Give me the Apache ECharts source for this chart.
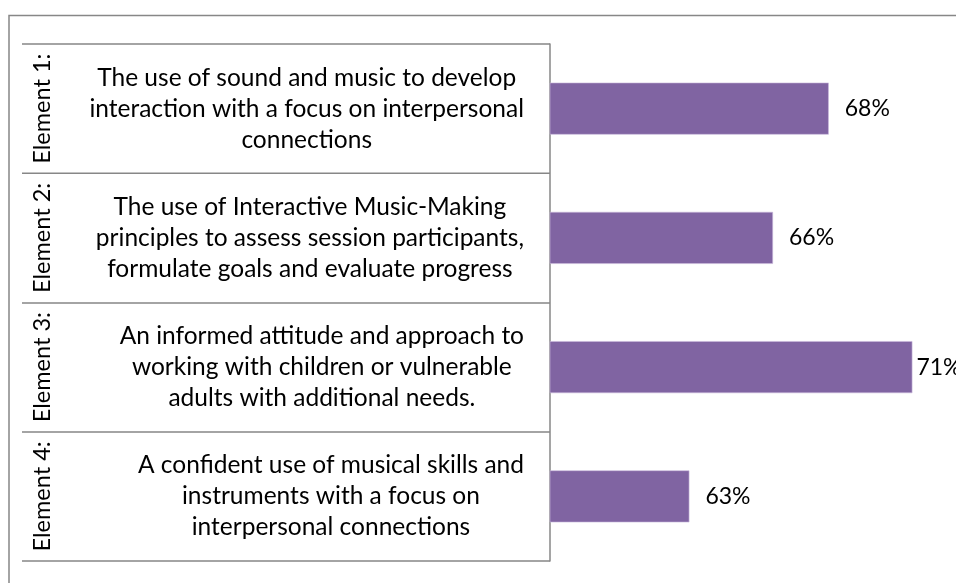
<!DOCTYPE html>
<html>
<head>
<meta charset="utf-8">
<script src="https://cdn.jsdelivr.net/npm/echarts@6/dist/echarts.min.js"></script>
<style>
  html, body { margin: 0; padding: 0; background: #fff; }
  #chart { width: 956px; height: 583px; }
</style>
</head>
<body>
<div id="chart"></div>
<script>
// Element headings (rotated column) and their descriptions
const elements = ['Element 1:', 'Element 2:', 'Element 3:', 'Element 4:'];
const descriptions = [
  'The use of sound and music to develop\ninteraction with a focus on interpersonal\nconnections',
  'The use of Interactive Music-Making\nprinciples to assess session participants,\nformulate goals and evaluate progress',
  'An informed attitude and approach to\nworking with children or vulnerable\nadults with additional needs.',
  'A confident use of musical skills and\ninstruments with a focus on\ninterpersonal connections'
];
// Percentage for each element
const percentages = [68, 66, 71, 63];

const FONT = 'Lato, "Open Sans", sans-serif';
const GRAY = '#878787';
const X_MIN = 58, X_MAX = 72;

// Labels of bars that reach close to the right edge sit tighter to the bar
const barData = percentages.map(function (v) {
  return X_MAX - v < 2 ? { value: v, label: { distance: 4 } } : v;
});

const chart = echarts.init(document.getElementById('chart'), null, { renderer: 'canvas' });

chart.setOption({
  backgroundColor: '#ffffff',
  animation: false,
  grid: { left: 550, right: 15.75, top: 44, bottom: 22, containLabel: false },
  xAxis: {
    type: 'value',
    min: X_MIN,
    max: X_MAX,
    show: false
  },
  yAxis: [
    {
      type: 'category',
      data: descriptions,
      inverse: true,
      position: 'left',
      axisLine: { show: true, lineStyle: { color: GRAY, width: 1.5 } },
      axisTick: { show: true, interval: 0, length: 528, lineStyle: { color: GRAY, width: 1.5 } },
      splitLine: { show: false },
      axisLabel: {
        interval: 0,
        hideOverlap: false,
        margin: 26,
        align: 'right',
        formatter: function (v) {
          return v.split('\n').map(function (l) { return '{d|' + l + '}'; }).join('\n');
        },
        rich: {
          d: { align: 'center', fontFamily: FONT, fontSize: 24.5, lineHeight: 31, color: '#000' }
        }
      }
    },
    {
      type: 'category',
      data: elements,
      inverse: true,
      position: 'left',
      offset: 0,
      axisLine: { show: false },
      axisTick: { show: false },
      splitLine: { show: false },
      axisLabel: {
        interval: 0,
        hideOverlap: false,
        rotate: 90,
        margin: 508,
        align: 'center',
        verticalAlign: 'middle',
        fontFamily: FONT,
        fontSize: 23.5,
        color: '#000'
      }
    }
  ],
  series: [
    {
      type: 'bar',
      yAxisIndex: 0,
      data: barData,
      barWidth: 52,
      itemStyle: { color: '#8064A2', borderColor: '#c9b8dc', borderWidth: 0.6 },
      label: {
        show: true,
        position: 'right',
        distance: 16,
        formatter: '{c}%',
        fontFamily: FONT,
        fontSize: 23,
        color: '#000'
      },
      labelLayout: { hideOverlap: false }
    }
  ],
  graphic: [
    {
      type: 'polyline',
      silent: true,
      shape: { points: [[9, 600], [9, 15.5], [1000, 15.5]] },
      style: { stroke: GRAY, lineWidth: 1.5, fill: null }
    }
  ]
});
</script>
</body>
</html>
